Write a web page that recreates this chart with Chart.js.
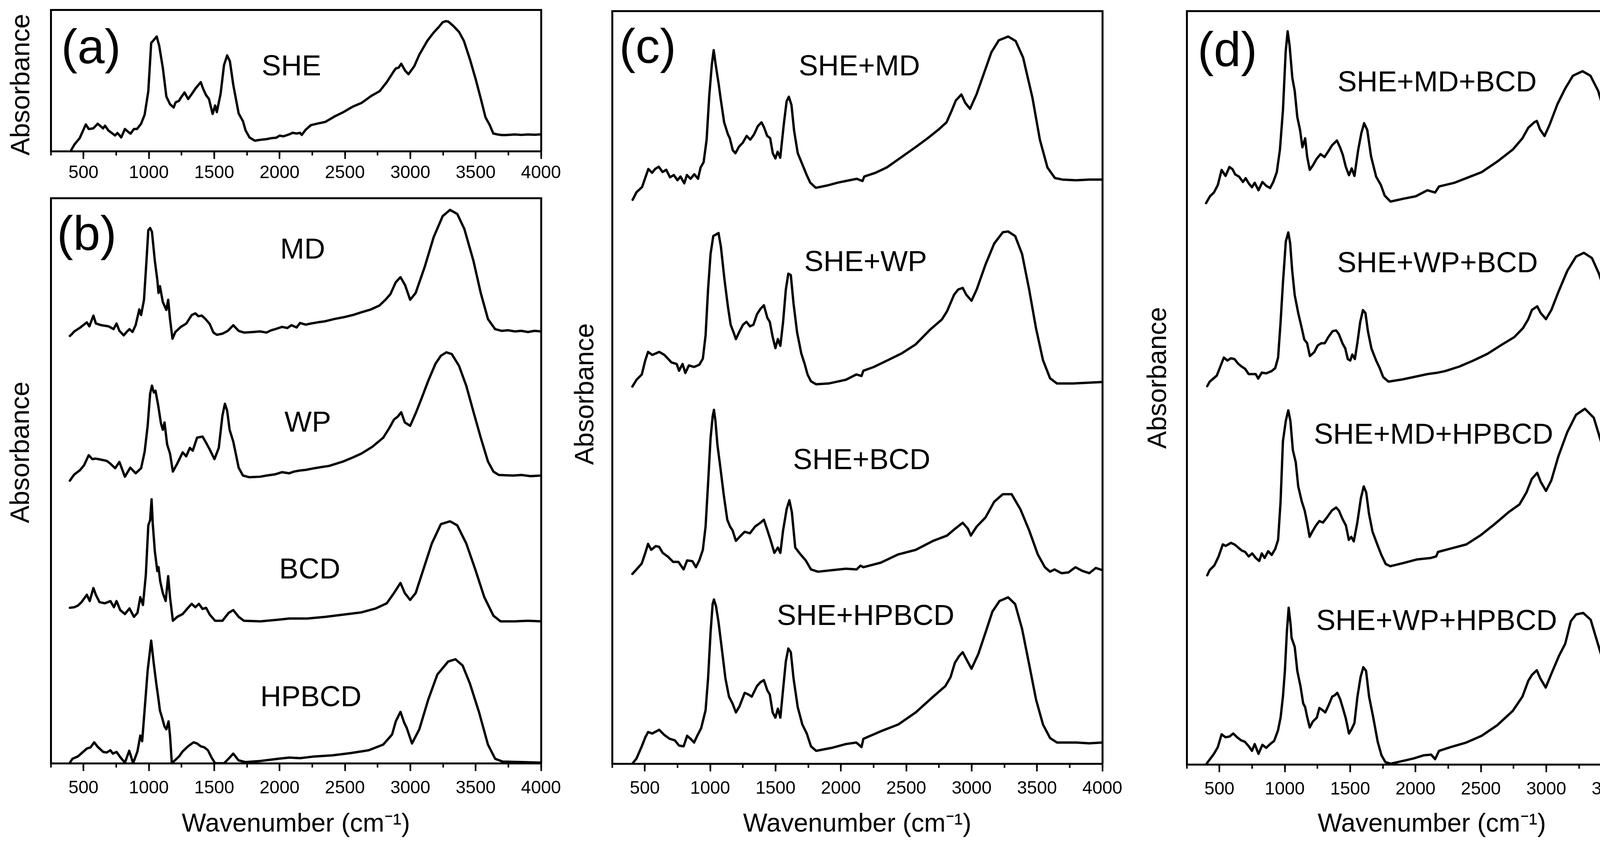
<!DOCTYPE html>
<html><head><meta charset="utf-8">
<script src="https://cdn.jsdelivr.net/npm/chart.js@4.4.1/dist/chart.umd.min.js"></script>
<style>
html,body{margin:0;padding:0;background:#fff;width:4357px;height:2171px;overflow:hidden;position:relative;}
canvas{position:absolute;}
</style></head><body>
<canvas id="ca" width="1485" height="480" style="left:0px;top:0px"></canvas>
<canvas id="cb" width="1485" height="1691" style="left:0px;top:480px"></canvas>
<canvas id="cc" width="1482" height="2171" style="left:1440px;top:0px"></canvas>
<canvas id="cd" width="1457" height="2171" style="left:2900px;top:0px"></canvas>
<script>
// ---------------- data (wavenumber, plotted absorbance incl. stacking offset, panel units 0-100) ----------------
const xTickValues = [500,1000,1500,2000,2500,3000,3500,4000];
const xMinorTickValues = [250,500,750,1000,1250,1500,1750,2000,2250,2500,2750,3000,3250,3500,3750,4000];
const SHE = [[402,0],[430,4.6],[471,9.2],[518,18.9],[540,15.7],[575,16.1],[609,19.4],[650,16.1],[665,18],[690,14.7],[742,11.1],[760,12.9],[789,9.7],[817,15.7],[840,13.8],[860,12.4],[886,15.7],[910,15.7],[941,19.4],[968,25.8],[996,42.4],[1018,76.5],[1035,78.3],[1060,81.1],[1079,74.7],[1107,59],[1134,38.7],[1162,33.2],[1190,30.9],[1205,34.6],[1230,35.5],[1245,37.8],[1273,41.5],[1301,36.9],[1330,40.6],[1356,44.2],[1397,48.8],[1415,44.2],[1438,39.6],[1460,36.9],[1488,26.3],[1507,32.3],[1520,27.6],[1549,40.6],[1575,60.8],[1599,67.7],[1620,63.6],[1646,46.9],[1687,26.7],[1720,21.2],[1740,14.7],[1770,9.7],[1811,7.4],[1850,8],[1900,8.5],[1936,9.2],[1975,9.5],[2000,11],[2030,10.5],[2074,11.9],[2100,13],[2130,12.5],[2157,12.9],[2170,11.5],[2200,15.2],[2240,18.4],[2290,19.5],[2350,20.7],[2420,24.5],[2488,27.6],[2560,31.5],[2627,34.1],[2700,39],[2765,42.4],[2820,48.8],[2870,56],[2889,58.5],[2910,59],[2931,61.8],[2960,57],[2986,54.4],[3030,60],[3069,68.2],[3130,78],[3179,83.9],[3220,88],[3248,91.2],[3270,91.9],[3290,91.7],[3330,88.5],[3373,84.3],[3410,78],[3456,65],[3500,51],[3539,37.3],[3575,24],[3608,18.4],[3635,12.5],[3663,11.9],[3700,11.4],[3732,11.4],[3800,11.8],[3850,11.5],[3900,11.8],[3950,11.6],[4000,11.9]];

const MD = [[396,75.6],[410,75.9],[430,76.4],[470,77.0],[526,78.0],[545,77.3],[576,79.2],[595,77.8],[637,77.5],[692,77.3],[730,76.8],[753,77.8],[775,76.5],[808,75.7],[830,76.3],[852,76.8],[875,76.3],[899,77.5],[927,80.3],[941,79.3],[963,82.0],[982,88.9],[996,94.3],[1010,94.7],[1024,94.0],[1046,88.9],[1065,85.5],[1074,83.2],[1085,84.4],[1107,81.6],[1134,80.2],[1148,82.0],[1162,78.6],[1181,75.1],[1203,76.3],[1245,77.2],[1287,77.8],[1328,79.3],[1356,79.6],[1378,79.1],[1405,79.2],[1433,78.6],[1466,77.7],[1494,76.2],[1521,75.8],[1563,76.0],[1604,76.5],[1646,77.5],[1687,76.5],[1728,76.2],[1798,76.3],[1850,76.4],[1900,76.2],[1936,76.6],[1980,76.9],[2019,77.2],[2060,77.0],[2090,77.5],[2130,77.1],[2157,77.9],[2200,77.6],[2240,77.8],[2290,78.0],[2350,78.2],[2420,78.6],[2488,78.9],[2560,79.3],[2627,79.8],[2700,80.3],[2765,81.0],[2810,82.0],[2848,83.0],[2889,85.1],[2925,86.0],[2960,84.6],[2999,82.0],[3041,83.2],[3110,87.8],[3179,93.1],[3248,96.8],[3304,97.9],[3359,97.2],[3414,94.5],[3483,88.9],[3539,83.2],[3594,78.6],[3649,76.8],[3700,76.5],[3750,76.6],[3800,76.4],[3850,76.5],[3900,76.3],[3950,76.5],[4000,76.4]];

const WP = [[396,50.0],[430,51.1],[471,51.8],[504,52.7],[540,54.5],[568,53.8],[595,53.9],[637,53.7],[678,53.5],[706,53.0],[742,52.2],[775,53.3],[817,50.7],[858,52.3],[899,51.3],[941,52.2],[968,55.1],[991,59.7],[1010,65.4],[1024,66.8],[1038,65.6],[1051,65.9],[1071,63.4],[1093,60.1],[1107,59.0],[1120,60.3],[1140,56.4],[1162,54.8],[1184,51.6],[1217,53.0],[1259,55.0],[1286,54.3],[1314,55.8],[1336,55.3],[1369,57.6],[1411,57.8],[1438,56.7],[1466,55.5],[1502,53.8],[1535,55.8],[1563,61.5],[1582,63.6],[1599,62.4],[1618,59.0],[1646,56.9],[1687,52.3],[1720,50.9],[1770,50.6],[1853,50.7],[1900,50.9],[1963,51.1],[2019,51.5],[2074,51.3],[2110,51.6],[2157,51.8],[2200,51.9],[2267,52.2],[2320,52.4],[2378,52.6],[2488,53.4],[2560,54.1],[2627,54.8],[2710,56.0],[2793,57.6],[2842,59.4],[2875,60.8],[2903,61.3],[2931,62.1],[2958,60.3],[2999,59.7],[3041,61.9],[3082,64.3],[3138,67.7],[3193,70.7],[3234,72.1],[3276,72.7],[3317,72.4],[3373,70.3],[3428,66.8],[3483,62.2],[3539,57.6],[3594,53.4],[3636,51.6],[3677,51.0],[3787,50.9],[3850,51.0],[3920,50.8],[4000,50.9]];

const BCD = [[396,27.5],[430,27.6],[458,27.9],[485,28.5],[526,29.8],[548,28.7],[576,31.0],[595,29.8],[623,28.5],[664,28.3],[706,28.7],[733,27.6],[753,28.7],[781,27.1],[817,26.4],[852,27.4],[886,25.9],[913,26.6],[935,29.4],[955,28.0],[977,33.3],[996,42.1],[1010,43.0],[1021,46.7],[1030,42.4],[1046,37.5],[1065,34.0],[1074,34.7],[1087,32.2],[1107,30.1],[1129,28.7],[1148,33.1],[1162,29.4],[1184,25.2],[1217,25.9],[1259,26.4],[1300,27.5],[1328,28.2],[1356,27.6],[1383,28.2],[1411,27.3],[1438,27.5],[1466,26.3],[1507,25.2],[1563,25.2],[1610,26.6],[1646,27.1],[1687,25.9],[1728,25.2],[1853,25.1],[1991,25.4],[2074,25.6],[2212,25.6],[2350,25.9],[2488,26.3],[2627,26.7],[2737,27.4],[2820,28.3],[2875,30.1],[2925,31.9],[2958,30.1],[2999,28.9],[3041,30.1],[3096,34.0],[3165,38.9],[3234,42.3],[3304,42.8],[3359,42.1],[3428,38.9],[3497,34.3],[3566,29.4],[3636,26.1],[3691,25.1],[3800,25.1],[3900,25.2],[4000,25.1]];

const HPBCD = [[396,0.1],[416,0.8],[457,1.2],[526,2.6],[554,2.8],[582,3.7],[609,2.9],[651,2.0],[678,1.9],[706,2.3],[725,1.7],[753,2.0],[784,1.0],[817,0.1],[850,2.2],[880,0.0],[913,2.1],[935,4.9],[949,3.9],[968,9.5],[991,16.4],[1018,21.7],[1038,17.6],[1057,14.1],[1074,11.3],[1085,9.3],[1101,8.1],[1120,6.5],[1134,6.0],[1151,7.4],[1162,4.9],[1176,0.0],[1231,1.2],[1259,2.1],[1300,3.0],[1342,3.7],[1369,3.5],[1397,3.0],[1425,2.8],[1452,2.3],[1480,1.0],[1507,0.0],[1576,0.0],[1618,1.0],[1646,1.7],[1687,0.5],[1742,0.2],[1853,0.4],[1991,0.8],[2074,1.0],[2157,0.9],[2267,1.2],[2405,1.4],[2544,1.8],[2682,2.3],[2793,3.3],[2861,5.1],[2889,7.4],[2925,9.1],[2953,7.2],[2972,6.3],[3013,3.5],[3069,6.0],[3138,11.3],[3207,15.7],[3290,18.0],[3345,18.4],[3400,17.3],[3456,14.1],[3525,9.1],[3594,3.3],[3649,0.8],[3704,0.3],[3850,0.2],[4000,0.1]];

const SHE_MD = [[407,74.9],[436,75.9],[479,76.6],[507,78.0],[527,79.0],[556,78.5],[579,79.0],[607,79.3],[636,78.6],[664,78.9],[693,77.9],[722,78.2],[750,77.5],[773,78.0],[802,77.1],[822,78.2],[850,77.7],[879,78.3],[907,77.7],[927,79.2],[950,79.9],[973,82.9],[993,88.7],[1013,92.9],[1027,94.8],[1042,92.9],[1065,90.3],[1079,88.5],[1107,85.2],[1136,83.6],[1150,83.1],[1173,81.5],[1193,81.1],[1222,82.0],[1250,82.5],[1279,83.4],[1307,82.9],[1336,83.6],[1365,84.7],[1393,85.2],[1413,84.5],[1436,83.4],[1459,83.1],[1479,81.1],[1499,80.4],[1516,81.3],[1536,80.5],[1565,85.2],[1585,88.0],[1602,88.6],[1622,87.5],[1642,84.1],[1670,81.1],[1708,79.5],[1736,78.3],[1765,77.2],[1808,76.5],[1893,76.8],[1979,77.2],[2036,77.4],[2122,77.7],[2165,77.4],[2179,78.0],[2265,78.5],[2351,79.2],[2465,80.6],[2579,82.0],[2665,83.1],[2751,84.3],[2808,85.2],[2851,86.9],[2879,88.1],[2922,88.9],[2951,87.8],[2988,87.0],[3037,88.9],[3094,91.7],[3151,94.5],[3208,96.1],[3280,96.6],[3337,96.0],[3394,93.8],[3465,88.5],[3522,82.9],[3580,79.2],[3637,77.8],[3694,77.6],[3800,77.5],[3900,77.6],[4000,77.6]];

const SHE_WP = [[405,50.1],[437,51.0],[477,51.7],[504,53.6],[525,54.7],[557,54.3],[610,54.7],[650,54.3],[677,53.8],[704,53.3],[744,53.1],[762,52.2],[789,53.1],[810,51.9],[837,52.9],[877,52.7],[917,53.0],[944,53.8],[965,56.9],[984,63.0],[1003,67.7],[1024,70.1],[1045,70.3],[1064,70.5],[1082,68.7],[1109,64.4],[1136,60.7],[1157,58.3],[1179,57.3],[1197,56.4],[1224,57.4],[1251,58.3],[1278,58.7],[1304,58.1],[1331,58.3],[1358,59.7],[1384,60.4],[1411,60.9],[1438,59.2],[1456,58.7],[1478,56.7],[1499,55.2],[1518,56.4],[1537,55.5],[1558,58.7],[1579,63.0],[1598,65.1],[1617,64.9],[1638,61.1],[1665,57.3],[1697,54.5],[1723,53.1],[1745,51.7],[1771,50.8],[1811,50.4],[1905,50.5],[1985,50.8],[2038,51.0],[2118,51.7],[2158,51.5],[2172,52.2],[2252,52.7],[2359,53.6],[2465,54.5],[2572,55.7],[2679,57.6],[2772,59.0],[2812,60.1],[2866,62.3],[2898,63.0],[2932,63.2],[2959,62.3],[2999,61.5],[3039,63.0],[3106,66.3],[3173,69.1],[3239,70.6],[3279,70.7],[3333,70.1],[3386,67.7],[3440,63.0],[3493,57.8],[3546,53.6],[3600,51.2],[3653,50.5],[3773,50.5],[3880,50.6],[4000,50.7]];

const SHE_BCD = [[405,25.2],[437,25.8],[477,26.6],[504,28.0],[525,29.2],[549,28.4],[584,28.9],[610,28.8],[637,28.0],[677,27.5],[717,26.8],[757,26.8],[797,25.8],[824,27.0],[864,26.9],[891,26.1],[917,27.0],[944,28.4],[965,31.5],[984,37.2],[1003,43.2],[1019,46.1],[1029,47.0],[1040,45.6],[1056,42.3],[1077,39.5],[1104,35.7],[1131,32.4],[1152,31.5],[1171,31.0],[1197,29.6],[1224,30.1],[1264,30.8],[1304,30.6],[1344,31.5],[1384,32.0],[1411,32.4],[1438,31.0],[1464,29.6],[1491,28.0],[1518,28.7],[1537,28.0],[1558,31.0],[1585,33.8],[1606,35.0],[1625,33.4],[1651,28.7],[1691,27.8],[1731,27.0],[1771,25.8],[1825,25.5],[1931,25.7],[2038,25.9],[2120,25.8],[2150,26.3],[2172,26.1],[2305,26.7],[2439,27.8],[2572,28.4],[2706,29.6],[2812,30.3],[2866,31.1],[2932,32.0],[2972,31.2],[2994,30.3],[3039,31.5],[3106,32.7],[3173,34.8],[3239,35.8],[3306,35.8],[3373,33.8],[3440,31.0],[3506,27.8],[3560,26.1],[3600,25.5],[3634,25.8],[3687,25.3],[3740,25.4],[3794,26.1],[3847,25.6],[3900,25.3],[3950,26.0],[4000,25.7]];

const SHE_HPBCD = [[405,0],[437,0.7],[477,2.3],[504,3.5],[525,4.2],[557,4.0],[610,4.5],[650,3.8],[690,3.3],[730,3.1],[762,2.4],[797,2.3],[824,3.7],[850,3.3],[877,2.8],[904,3.8],[931,4.7],[965,7.1],[984,11.3],[1003,17.4],[1019,21.2],[1029,21.8],[1045,20.9],[1064,18.8],[1091,15.0],[1117,11.3],[1144,8.9],[1171,8.0],[1197,6.8],[1224,7.6],[1264,9.4],[1291,9.2],[1318,8.9],[1358,10.3],[1384,10.8],[1411,11.1],[1438,9.7],[1456,9.2],[1478,6.8],[1499,6.1],[1518,7.3],[1537,6.1],[1558,9.9],[1579,13.6],[1598,15.3],[1617,14.8],[1638,11.3],[1670,7.5],[1705,5.2],[1739,4.0],[1771,2.3],[1811,1.7],[1931,2.1],[2038,2.6],[2118,2.8],[2158,2.2],[2172,3.3],[2305,4.3],[2439,5.2],[2572,6.8],[2706,8.9],[2799,10.3],[2839,11.5],[2872,13.4],[2905,14.3],[2932,14.8],[2959,13.9],[2999,12.6],[3052,14.6],[3106,17.4],[3159,20.2],[3213,21.6],[3279,22.1],[3333,21.2],[3386,17.9],[3440,13.2],[3493,8.5],[3546,5.2],[3600,3.4],[3653,2.8],[3800,2.8],[3900,2.7],[4000,2.8]];

const SHE_MD_BCD = [[398,74.5],[428,75.4],[458,75.9],[488,76.9],[517,78.9],[547,78.1],[577,79.3],[600,79.0],[621,78.3],[651,78.0],[680,77.3],[701,77.8],[725,77.1],[749,76.6],[770,77.2],[799,76.2],[829,77.3],[858,76.8],[888,76.5],[912,77.3],[939,78.6],[963,81.6],[986,86.8],[1007,94.6],[1022,97.3],[1037,95.4],[1058,91.1],[1076,89.4],[1096,85.9],[1117,84.2],[1135,81.9],[1156,83.1],[1171,80.7],[1191,78.9],[1215,79.5],[1245,80.4],[1274,81.0],[1304,80.6],[1334,81.4],[1363,82.2],[1399,82.8],[1423,81.9],[1444,80.9],[1467,79.3],[1491,78.2],[1512,79.1],[1533,78.1],[1562,81.6],[1586,83.8],[1607,85.1],[1631,84.2],[1660,80.7],[1699,78.0],[1735,76.9],[1764,75.5],[1809,74.7],[1913,75.1],[2002,75.4],[2091,76.2],[2150,75.9],[2180,76.7],[2299,77.2],[2417,78.0],[2506,78.6],[2625,80.0],[2744,81.6],[2818,83.1],[2863,84.5],[2907,85.2],[2928,85.4],[2952,84.3],[2987,83.4],[3026,84.9],[3085,87.6],[3145,89.7],[3204,91.4],[3278,92.0],[3338,91.4],[3397,89.4],[3457,85.9],[3516,81.6],[3576,77.6],[3635,75.4],[3694,75.0],[3813,75.2],[3900,75.3],[4000,75.4]];

const SHE_WP_BCD = [[407,50.2],[426,50.8],[453,51.2],[480,51.6],[507,52.8],[534,54.0],[561,53.6],[588,53.9],[615,53.8],[643,53.2],[670,52.8],[697,52.5],[724,51.8],[751,51.8],[778,51.8],[797,51.2],[824,52.0],[859,51.9],[900,52.2],[927,52.6],[949,54.0],[968,58.7],[986,63.9],[1008,69.4],[1027,70.6],[1041,69.2],[1057,65.5],[1076,62.3],[1103,59.9],[1130,57.9],[1149,56.4],[1171,55.9],[1192,54.2],[1225,54.7],[1252,55.6],[1279,55.9],[1306,55.9],[1333,56.7],[1366,57.5],[1393,57.6],[1414,57.1],[1441,55.9],[1463,55.2],[1482,53.8],[1501,53.6],[1517,54.4],[1536,53.8],[1555,55.9],[1577,58.7],[1598,60.3],[1617,59.9],[1636,57.5],[1663,55.2],[1699,53.6],[1726,52.6],[1753,51.4],[1793,50.8],[1902,51.1],[1983,51.4],[2091,51.8],[2172,52.0],[2226,52.2],[2335,52.8],[2443,53.6],[2551,54.5],[2660,55.7],[2755,56.7],[2822,57.9],[2863,59.1],[2890,60.3],[2931,60.8],[2958,59.9],[2998,59.1],[3039,60.3],[3093,62.7],[3161,65.5],[3228,67.4],[3288,67.9],[3350,67.2],[3404,65.1],[3472,61.5],[3540,57.1],[3594,53.6],[3648,52.0],[3702,51.6],[3770,51.7],[3851,51.4],[4000,51.3]];

const SHE_MD_HPBCD = [[407,25.1],[426,25.8],[461,26.4],[494,27.6],[526,29.2],[548,29.0],[588,29.4],[615,29.2],[643,28.8],[670,28.4],[697,28.2],[724,27.6],[751,28.0],[778,27.4],[805,27.0],[824,28.0],[846,27.4],[873,28.3],[900,27.8],[927,28.6],[949,29.8],[968,34.9],[986,42.9],[1008,45.6],[1027,47.0],[1043,45.6],[1062,41.7],[1084,40.1],[1103,36.9],[1130,34.9],[1152,33.7],[1171,32.1],[1190,30.2],[1211,30.9],[1238,31.7],[1265,32.3],[1292,32.1],[1328,32.9],[1360,33.7],[1393,34.1],[1414,33.7],[1441,32.6],[1468,31.7],[1490,29.8],[1509,30.2],[1528,29.6],[1555,32.1],[1582,35.3],[1604,36.9],[1623,36.1],[1644,33.3],[1671,30.9],[1712,29.0],[1739,27.8],[1772,26.6],[1807,26.3],[1902,26.7],[2010,27.2],[2118,27.4],[2158,27.6],[2172,28.2],[2281,28.7],[2389,29.2],[2497,30.4],[2606,31.9],[2714,33.5],[2795,34.5],[2849,36.1],[2890,37.9],[2931,38.7],[2958,37.5],[2998,36.3],[3039,37.7],[3093,40.9],[3161,44.1],[3228,46.4],[3296,47.2],[3364,46.0],[3418,42.9],[3486,36.9],[3557,31.7],[3612,28.6],[3666,27.4],[3802,27.2],[3900,27.3],[4000,27.2]];

const SHE_WP_HPBCD = [[398,0],[428,0.7],[458,1.4],[488,2.3],[517,4.0],[547,3.6],[577,3.7],[606,4.1],[636,3.6],[666,3.2],[695,3.0],[725,2.4],[749,1.8],[770,2.7],[799,1.4],[829,2.6],[858,2.2],[888,2.7],[918,3.1],[948,4.5],[968,6.2],[986,9.0],[1001,12.4],[1016,17.6],[1030,20.8],[1045,18.5],[1052,16.8],[1076,15.6],[1096,12.4],[1120,10.4],[1141,8.1],[1156,7.6],[1170,6.4],[1191,4.9],[1215,5.7],[1245,6.2],[1265,7.5],[1289,7.2],[1310,6.9],[1334,7.8],[1363,9.0],[1384,9.2],[1402,9.5],[1423,8.7],[1444,7.5],[1467,6.1],[1491,4.1],[1512,4.7],[1533,5.5],[1556,9.0],[1580,11.6],[1601,12.9],[1622,12.4],[1645,9.0],[1675,6.4],[1711,3.0],[1740,1.2],[1770,0.3],[1809,0.1],[1913,0.5],[1987,0.8],[2061,1.2],[2120,1.3],[2150,0.7],[2180,1.8],[2269,2.3],[2388,2.9],[2506,3.8],[2625,5.2],[2744,7.1],[2818,9.0],[2863,11.1],[2892,11.9],[2928,12.5],[2955,11.4],[2996,10.2],[3041,12.1],[3100,14.5],[3145,16.0],[3188,19.0],[3228,19.9],[3283,20.1],[3340,19.2],[3397,15.9],[3442,13.3],[3471,10.7],[3516,7.3],[3560,3.8],[3605,1.2],[3650,0.3],[3694,0.2],[3800,0.3],[3900,0.4],[4000,0.3]];

const panelLetters = ['(a)','(b)','(c)','(d)'];
const sampleNames = {
  a:['SHE'],
  b:['MD','WP','BCD','HPBCD'],
  c:['SHE+MD','SHE+WP','SHE+BCD','SHE+HPBCD'],
  d:['SHE+MD+BCD','SHE+WP+BCD','SHE+MD+HPBCD','SHE+WP+HPBCD']
};
const yTitle = 'Absorbance';
const xTitle = 'Wavenumber (cm\u207B\u00B9)';

// ---------------- layout ----------------
const FONT = '"Liberation Sans", Arial, Helvetica, sans-serif';
Chart.defaults.font.family = FONT;
Chart.defaults.color = '#000';

const textPlugin = {
  id: 'panelText',
  afterDraw(chart, args, opts) {
    const ctx = chart.ctx, xs = chart.scales.x, ys = chart.scales.y;
    ctx.save();
    ctx.fillStyle = '#000';
    ctx.textAlign = 'center';
    ctx.textBaseline = 'middle';
    for (const it of (opts.items || [])) {
      ctx.font = it.size + 'px ' + FONT;
      const px = (it.px !== undefined) ? it.px : xs.getPixelForValue(it.x);
      const py = ys.getPixelForValue(it.y);
      if (it.rot) {
        ctx.save(); ctx.translate(px, py); ctx.rotate(-Math.PI / 2);
        ctx.fillText(it.text, 0, 0); ctx.restore();
      } else {
        ctx.fillText(it.text, px, py);
      }
    }
    ctx.restore();
  }
};

const LBL = 74, LET = 125, YT = 68;
const panels = [
  { id:'ca', left:0, top:0, area:{l:130,t:25,r:1385,b:387}, series:[SHE], tickPad:4, xt:false,
    items:[{text:panelLetters[0],x:558,y:71.8,size:LET},{text:sampleNames.a[0],x:2091,y:59.1,size:LBL},
           {text:yTitle,px:56,y:47,size:YT,rot:true}] },
  { id:'cb', left:0, top:480, area:{l:130,t:507,r:1385,b:1954}, series:[MD,WP,BCD,HPBCD], tickPad:12, xt:true,
    items:[{text:panelLetters[1],x:525,y:93.2,size:LET},
           {text:sampleNames.b[0],x:2177,y:90.7,size:LBL},{text:sampleNames.b[1],x:2216,y:60.1,size:LBL},
           {text:sampleNames.b[2],x:2231,y:34.1,size:LBL},{text:sampleNames.b[3],x:2240,y:11.5,size:LBL},
           {text:yTitle,px:55,y:55,size:YT,rot:true}] },
  { id:'cc', left:1440, top:0, area:{l:1567,t:28,r:2822,b:1955}, series:[SHE_MD,SHE_WP,SHE_BCD,SHE_HPBCD], tickPad:12, xt:true,
    items:[{text:panelLetters[2],x:522,y:94.9,size:LET},
           {text:sampleNames.c[0],x:2141,y:92.5,size:LBL},{text:sampleNames.c[1],x:2189,y:66.5,size:LBL},
           {text:sampleNames.c[2],x:2159,y:40.2,size:LBL},{text:sampleNames.c[3],x:2189,y:19.5,size:LBL},
           {text:yTitle,px:60,y:49.1,size:YT,rot:true}] },
  { id:'cd', left:2900, top:0, area:{l:3038,t:28,r:4293,b:1957}, series:[SHE_MD_BCD,SHE_WP_BCD,SHE_MD_HPBCD,SHE_WP_HPBCD], tickPad:12, xt:true,
    items:[{text:panelLetters[3],x:561,y:94.5,size:LET},
           {text:sampleNames.d[0],x:2165,y:90.4,size:LBL},{text:sampleNames.d[1],x:2168,y:66.4,size:LBL},
           {text:sampleNames.d[2],x:2138,y:43.6,size:LBL},{text:sampleNames.d[3],x:2162,y:18.9,size:LBL},
           {text:yTitle,px:66,y:51.3,size:YT,rot:true}] }
];

const BW = 5, LW = 6;
for (const p of panels) {
  const cv = document.getElementById(p.id);
  const cw = cv.width, ch = cv.height;
  const L = p.area.l - p.left, T = p.area.t - p.top, R = p.area.r - p.left, B = p.area.b - p.top;
  new Chart(cv, {
    type: 'line',
    data: { datasets: p.series.map(s => ({
      data: s.map(v => ({x: v[0], y: v[1]})),
      borderColor: '#000', borderWidth: LW, pointRadius: 0, tension: 0, fill: false,
      borderJoinStyle: 'round', borderCapStyle: 'round', xAxisID: 'x', yAxisID: 'y'
    })) },
    options: {
      responsive: false, animation: false, devicePixelRatio: 1, events: [],
      layout: { padding: { left: 0, top: T, right: cw - R, bottom: 0 }, autoPadding: false },
      plugins: { legend: { display: false }, tooltip: { enabled: false }, panelText: { items: p.items } },
      scales: {
        x: { type: 'linear', position: 'bottom', min: 250, max: 4000, weight: 0,
             afterBuildTicks: s => { s.ticks = xMinorTickValues.map(v => ({value: v})); },
             ticks: { display: false },
             grid: { display: true, drawOnChartArea: false, drawTicks: true, tickLength: 11, tickWidth: 4, tickColor: '#000' },
             border: { display: false },
             afterFit: s => { s.height = 0; } },
        xMajor: { type: 'linear', position: 'bottom', min: 250, max: 4000, weight: 1,
             afterBuildTicks: s => { s.ticks = xTickValues.map(v => ({value: v})); },
             ticks: { autoSkip: false, maxRotation: 0, minRotation: 0, padding: p.tickPad, color: '#000',
                      font: { family: FONT, size: 46, lineHeight: 1.4174 }, callback: v => String(v) },
             grid: { display: true, drawOnChartArea: false, drawTicks: true, tickLength: 20, tickWidth: 4, tickColor: '#000' },
             border: { display: true, width: BW, color: '#000' },
             title: { display: p.xt, text: xTitle, color: '#000', font: { family: FONT, size: 66 }, padding: { top: 0, bottom: 21 } },
             afterFit: s => { s.height = ch - B; } },
        xTop: { type: 'linear', position: 'top', min: 250, max: 4000,
             ticks: { display: false }, grid: { display: false },
             border: { display: true, width: BW, color: '#000' },
             afterFit: s => { s.height = 0; } },
        y: { type: 'linear', position: 'left', min: 0, max: 100,
             ticks: { display: false }, grid: { display: false },
             border: { display: true, width: BW, color: '#000' },
             afterFit: s => { s.width = L; } },
        yRight: { type: 'linear', position: 'right', min: 0, max: 100,
             ticks: { display: false }, grid: { display: false },
             border: { display: true, width: BW, color: '#000' },
             afterFit: s => { s.width = 0; } }
      }
    },
    plugins: [textPlugin]
  });
}
</script>
</body></html>
